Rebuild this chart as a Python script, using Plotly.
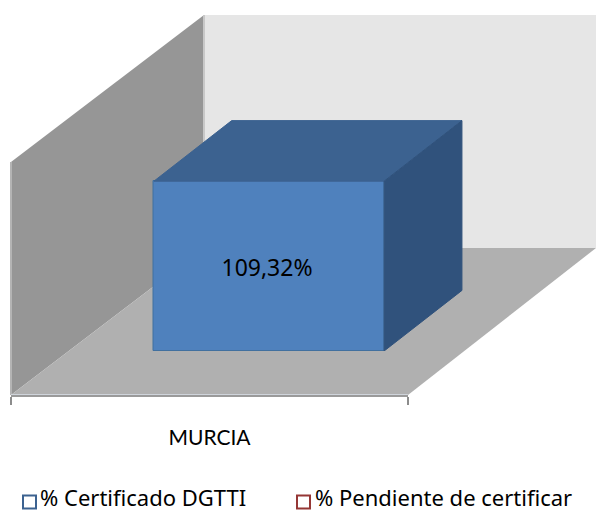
import plotly.graph_objects as go

# ---- data ----
categories = ["MURCIA"]
certificado = [109.32]
pendiente = [0]
series_names = ["% Certificado DGTTI", "% Pendiente de certificar"]
axis_max = 150

# ---- geometry of the pseudo-3D box (figure pixels) ----
W, H = 596, 511
FONT = "Lato, Carlito, Calibri, sans-serif"
WIDE = "'Noto Sans', sans-serif"


def px(x):
    return x / W


def py(y):
    return 1 - y / H


wall_left, wall_bottom = 11, 395
wall_right = 408
wall_height = 233
depth_x, depth_y = 193, 147          # depth of the whole plot box
bar_dx_px, bar_dy_px = 59.5, 44      # offset of the bar's front face
bar_width = 0.58
bar_depth_x = 0.196                  # bar depth in x2 units
bar_depth_y = 39                     # bar depth in value units


def poly(pts, fill):
    d = "M" + " L".join(f"{px(x):.5f},{py(y):.5f}" for x, y in pts) + " Z"
    return dict(type="path", xref="paper", yref="paper", path=d,
                fillcolor=fill, line=dict(width=0), layer="below")


t = wall_bottom - wall_height
shapes = [
    poly([(wall_left + depth_x, t - depth_y), (W, t - depth_y),
          (W, wall_bottom - depth_y), (wall_left + depth_x, wall_bottom - depth_y)], "#e6e6e6"),
    poly([(wall_left, t), (wall_left + depth_x, t - depth_y),
          (wall_left + depth_x, wall_bottom - depth_y), (wall_left, wall_bottom)], "#969696"),
    poly([(wall_left, wall_bottom), (wall_left + depth_x, wall_bottom - depth_y),
          (W, wall_bottom - depth_y), (wall_right, wall_bottom)], "#b0b0b0"),
    dict(type="line", xref="paper", yref="paper",
         x0=px(wall_left + depth_x), x1=px(wall_left + depth_x),
         y0=py(t - depth_y), y1=py(wall_bottom - depth_y),
         line=dict(color="#c8c8c8", width=2), layer="below"),
    dict(type="line", xref="paper", yref="paper",
         x0=px(wall_left), x1=px(wall_left), y0=py(t), y1=py(wall_bottom),
         line=dict(color="#b4b4b4", width=2), layer="below"),
]

fig = go.Figure()

# category axis carrier (gives tick marks + label)
fig.add_trace(go.Bar(x=categories, y=pendiente, name=series_names[1],
                     xaxis="x", yaxis="y", showlegend=False,
                     marker=dict(color="#c0504d"), hoverinfo="skip"))

# front face
v = certificado[0]
fig.add_trace(go.Bar(x=[0], y=certificado, width=[bar_width], xaxis="x2", yaxis="y2",
                     name=series_names[0],
                     marker=dict(color="#4f81bd", line=dict(color="#41709f", width=1)),
                     showlegend=False, hoverinfo="skip"))

hw = bar_width / 2
fig.add_trace(go.Scatter(
    x=[-hw, -hw + bar_depth_x, hw + bar_depth_x, hw, -hw],
    y=[v, v + bar_depth_y, v + bar_depth_y, v, v],
    xaxis="x2", yaxis="y2", mode="lines", fill="toself", fillcolor="#3c6290",
    line=dict(color="#3c6290", width=1), showlegend=False, hoverinfo="skip", cliponaxis=False))
fig.add_trace(go.Scatter(
    x=[hw, hw + bar_depth_x, hw + bar_depth_x, hw, hw],
    y=[v, v + bar_depth_y, bar_depth_y, 0, v],
    xaxis="x2", yaxis="y2", mode="lines", fill="toself", fillcolor="#30527c",
    line=dict(color="#30527c", width=1), showlegend=False, hoverinfo="skip", cliponaxis=False))

# data label
fig.add_trace(go.Scatter(x=[-0.005], y=[v * 0.475], xaxis="x2", yaxis="y2", mode="text",
                         text=[f"{val:.2f}%".replace(".", ",") for val in certificado],
                         textposition="middle center",
                         textfont=dict(family=WIDE, size=23, color="#000000"),
                         showlegend=False, hoverinfo="skip", cliponaxis=False))

# legend row, placed in figure pixels on a hidden overlay axis
swatch_x = [29.5, 303.5]
label_x = [40, 315]
row_y = 500
for name, col, sx, lx in zip(series_names, ["#3c6290", "#953735"], swatch_x, label_x):
    fig.add_trace(go.Scatter(x=[sx], y=[row_y + 2], xaxis="x3", yaxis="y3", mode="markers",
                             marker=dict(symbol="square-open", size=13, color=col,
                                         line=dict(width=2, color=col)),
                             showlegend=False, hoverinfo="skip", cliponaxis=False))
    fig.add_trace(go.Scatter(x=[lx], y=[row_y], xaxis="x3", yaxis="y3", mode="text",
                             text=[name], textposition="middle right",
                             textfont=dict(family=WIDE, size=22, color="#000000"),
                             showlegend=False, hoverinfo="skip", cliponaxis=False))

fig.update_layout(
    width=W, height=H, margin=dict(l=0, r=0, t=0, b=0),
    autosize=False,
    paper_bgcolor="#ffffff", plot_bgcolor="rgba(0,0,0,0)",
    shapes=shapes, bargap=0, barmode="overlay",
    font=dict(family=FONT, size=21, color="#000000"),
    showlegend=False,
    xaxis=dict(domain=[px(wall_left), px(wall_right)], type="category",
               tickson="boundaries", ticks="outside", ticklen=8, tickwidth=2,
               tickcolor="#8c8c8c", showline=True, linecolor="#9a9a9a", linewidth=2,
               showgrid=False, zeroline=False, ticklabelstandoff=23,
               tickfont=dict(family=FONT, size=21, color="#000000"),
               anchor="y", fixedrange=True),
    yaxis=dict(domain=[py(wall_bottom), py(t)], range=[0, axis_max], visible=False,
               anchor="x", fixedrange=True),
    xaxis2=dict(domain=[px(wall_left + bar_dx_px), px(wall_right + bar_dx_px)],
                range=[-0.5, 0.5], visible=False, anchor="y2", fixedrange=True),
    yaxis2=dict(domain=[py(wall_bottom - bar_dy_px), py(t - bar_dy_px)], range=[0, axis_max],
                visible=False, anchor="x2", fixedrange=True),
    xaxis3=dict(domain=[0, 1], range=[0, W], visible=False, anchor="y3", fixedrange=True),
    yaxis3=dict(domain=[0, 1], range=[H, 0], visible=False, anchor="x3", fixedrange=True),
)

fig.write_html("out.html", config=dict(displayModeBar=False),
               post_script="document.body.style.margin='0';document.body.style.overflow='hidden';")
